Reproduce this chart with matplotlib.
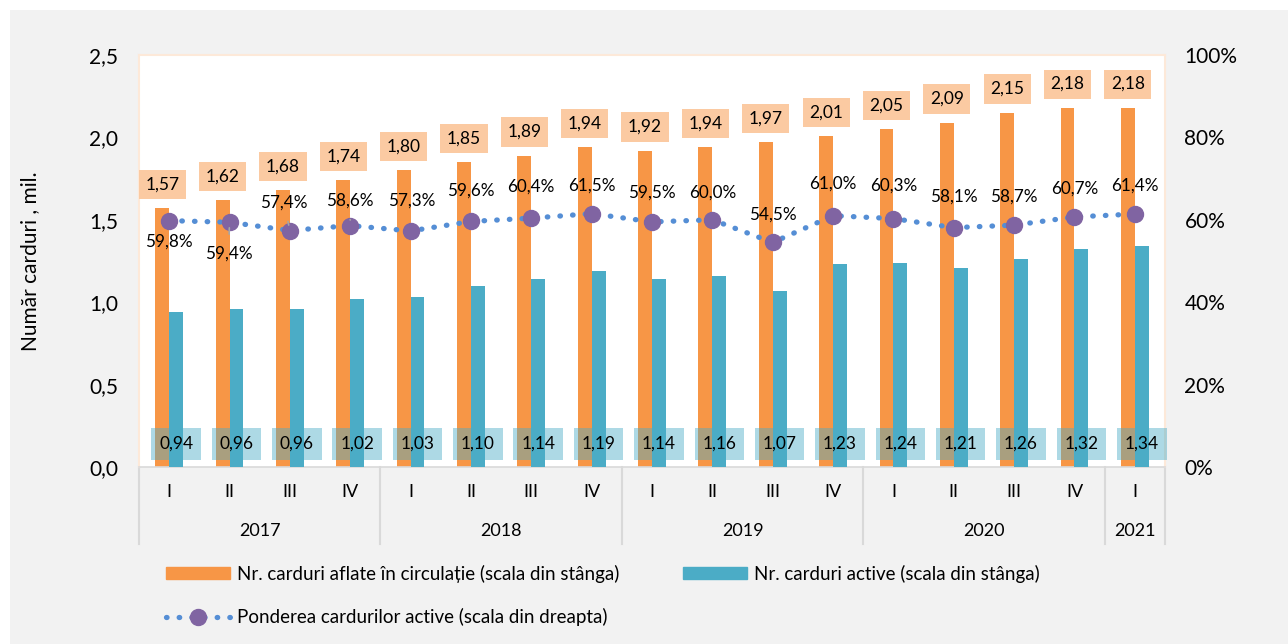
import matplotlib
matplotlib.use("Agg")
import matplotlib.pyplot as plt
from matplotlib.lines import Line2D
from matplotlib.patches import Patch, Rectangle
import numpy as np

plt.rcParams["font.family"] = ["Lato", "DejaVu Sans"]

quarters = ["I", "II", "III", "IV"] * 4 + ["I"]
years = ["2017", "2018", "2019", "2020", "2021"]
year_sizes = [4, 4, 4, 4, 1]
in_circulation = [1.57, 1.62, 1.68, 1.74, 1.80, 1.85, 1.89, 1.94, 1.92, 1.94,
                  1.97, 2.01, 2.05, 2.09, 2.15, 2.18, 2.18]
active = [0.94, 0.96, 0.96, 1.02, 1.03, 1.10, 1.14, 1.19, 1.14, 1.16,
          1.07, 1.23, 1.24, 1.21, 1.26, 1.32, 1.34]
share_active = [59.8, 59.4, 57.4, 58.6, 57.3, 59.6, 60.4, 61.5, 59.5, 60.0,
                54.5, 61.0, 60.3, 58.1, 58.7, 60.7, 61.4]

ORANGE = "#f79646"
TEAL = "#4bacc6"
PURPLE = "#8064a2"
DOTS = "#558ed5"
BG = "#f2f2f2"

# label offsets (px) of the percentage labels relative to their point
pct_offsets = [(0, -21), (-1, -31), (-6, 28), (0, 25), (1, 30), (0, 31),
               (0, 32), (0, 28), (0, 29), (0, 27), (0, 28), (0, 32),
               (0, 33), (0, 31), (0, 29), (0, 28), (0, 28)]
leader_idx = {1, 2, 3}

W, H = 1288, 644
fig = plt.figure(figsize=(W / 100, H / 100), dpi=100)
fig.patch.set_facecolor("white")
fig.patches.append(Rectangle((10 / W, 0), 1 - 10 / W, 1 - 10 / H,
                             transform=fig.transFigure, facecolor=BG,
                             edgecolor="none", zorder=-10))

ax = fig.add_axes([139 / W, 1 - 467 / H, (1165 - 139) / W, (467 - 55) / H])
ax.set_facecolor("white")
for s in ("top", "right", "left"):
    ax.spines[s].set_color("#fde9d9")
    ax.spines[s].set_linewidth(1.5)
ax.spines["bottom"].set_color("#d9d9d9")
ax.spines["bottom"].set_linewidth(1.2)

n = len(quarters)
x = np.arange(n)
bw = 0.23
ax.bar(x - bw / 2, in_circulation, bw, color=ORANGE, zorder=2)
ax.bar(x + bw / 2, active, bw, color=TEAL, zorder=4)
ax.set_xlim(-0.5, n - 0.5)
ax.set_ylim(0, 2.5)
ax.set_yticks(np.arange(0, 2.51, 0.5))
ax.set_yticklabels([f"{v:.1f}".replace(".", ",") for v in np.arange(0, 2.51, 0.5)])
ax.tick_params(axis="y", length=0, labelsize=15, pad=15)
ax.set_xticks(x)
ax.set_xticklabels(quarters)
ax.tick_params(axis="x", length=0, labelsize=13, pad=12)
ax.set_ylabel("Număr carduri , mil.", fontsize=15)
ax.yaxis.set_label_coords(-(139 - 40) / (1165 - 139), 0.5)

# value labels
for i in range(n):
    ax.annotate(f"{in_circulation[i]:.2f}".replace(".", ","),
                (x[i] - bw / 2, in_circulation[i]), xytext=(0, 17),
                textcoords="offset points", ha="center", va="center",
                fontsize=12.5, zorder=6,
                bbox=dict(boxstyle="square,pad=0.38", fc="#fbcaa2", ec="none"))
    lbl = f"{active[i]:.2f}".replace(".", ",")
    ax.text(x[i] + bw / 2, 0.14, lbl, ha="center", va="center",
            fontsize=12.5, color="none", zorder=3,
            bbox=dict(boxstyle="square,pad=0.45", fc=TEAL, alpha=0.45, ec="none"))
    ax.text(x[i] + bw / 2, 0.14, lbl, ha="center", va="center",
            fontsize=12.5, zorder=6)

# share of active cards on the right axis
ax2 = ax.twinx()
ax2.set_ylim(0, 100)
ax2.set_yticks(np.arange(0, 101, 20))
ax2.set_yticklabels([f"{v}%" for v in range(0, 101, 20)])
ax2.tick_params(axis="y", length=0, labelsize=15, pad=14)
for s in ax2.spines.values():
    s.set_visible(False)
ax2.plot(x, share_active, linestyle=(0, (0.1, 2.3)), color=DOTS, linewidth=3.8,
         dash_capstyle="round", zorder=5)
ax2.plot(x, share_active, linestyle="none", marker="o", markersize=11.5,
         color=PURPLE, zorder=6)
for i in range(n):
    dx, dy = pct_offsets[i]
    arrow = None
    if i in leader_idx:
        arrow = dict(arrowstyle="-", color="#a6a6a6", lw=1.2,
                     shrinkA=6, shrinkB=4)
    ax2.annotate(f"{share_active[i]:.1f}%".replace(".", ","),
                 (x[i], share_active[i]), xytext=(dx * 0.72, dy * 0.72),
                 textcoords="offset points", ha="center", va="center",
                 fontsize=12.3, zorder=7, arrowprops=arrow)

# year row + group separators below the axis
trans = ax.get_xaxis_transform()
sep_bottom = -(544 - 467) / (467 - 55)
year_y = -(531 - 467) / (467 - 55)
start = 0
bounds = [-0.5]
for yr, size in zip(years, year_sizes):
    centre = start + (size - 1) / 2
    ax.text(centre, year_y, yr, transform=trans, ha="center", va="center",
            fontsize=13)
    start += size
    bounds.append(start - 0.5)
for b in bounds:
    ax.add_line(Line2D([b, b], [0, sep_bottom], transform=trans, color="#d9d9d9",
                       linewidth=1.5, clip_on=False))

handles = [Patch(color=ORANGE),
           Line2D([], [], linestyle=(0, (0.1, 2.3)), color=DOTS, linewidth=3.8,
                  dash_capstyle="round", marker="o", markersize=11.5,
                  markerfacecolor=PURPLE, markeredgecolor=PURPLE),
           Patch(color=TEAL)]
labels = ["Nr. carduri aflate în circulație (scala din stânga)",
          "Ponderea cardurilor active (scala din dreapta)",
          "Nr. carduri active (scala din stânga)"]
fig.legend(handles, labels, ncol=2, loc="upper left",
           bbox_to_anchor=(149 / W, 1 - 548 / H), frameon=False, fontsize=13.5,
           handlelength=3.4, handletextpad=0.4, columnspacing=3.4,
           labelspacing=1.35, numpoints=1, handleheight=0.6)

fig.savefig("out.png", dpi=100, facecolor=fig.get_facecolor())
